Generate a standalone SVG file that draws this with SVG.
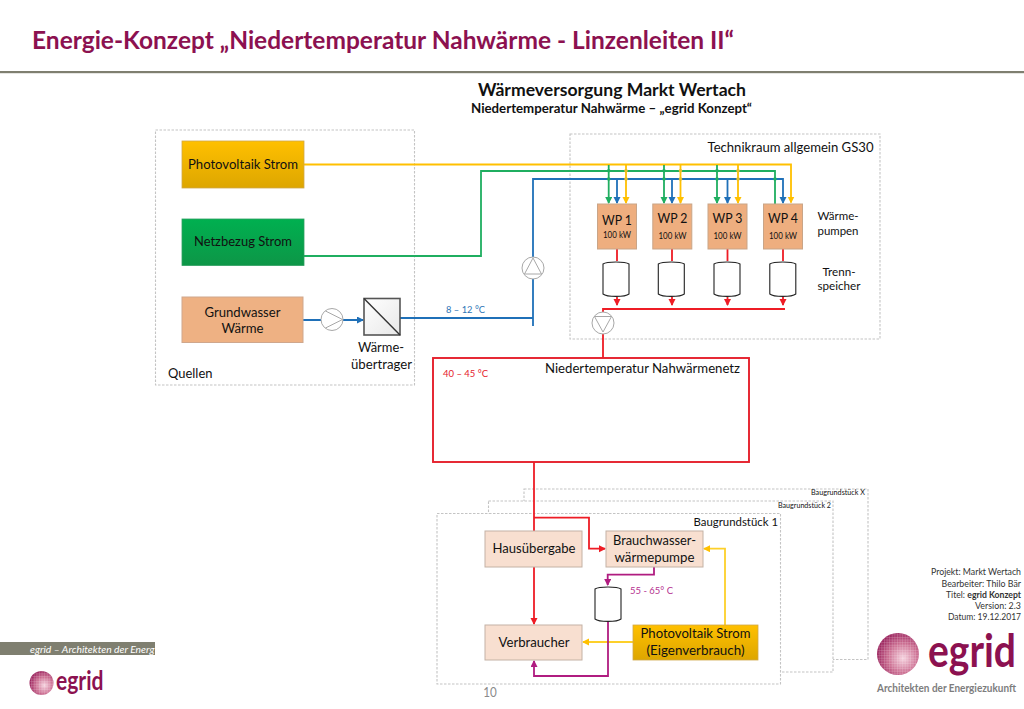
<svg xmlns="http://www.w3.org/2000/svg" width="1024" height="709" viewBox="0 0 1024 709">
<style>
text{font-family:"Lato","Carlito","Liberation Sans",sans-serif;fill:#111}
.m{text-anchor:middle}.e{text-anchor:end}
.t13{font-size:13px}.t12{font-size:12px}.t14{font-size:14px}.t9{font-size:8.6px}.t7{font-size:6.6px}
.area{fill:#fff;stroke:#c4c4c4;stroke-width:1.1;stroke-dasharray:2.5 1.5}
.peach{fill:#f8dfd0;stroke:#c4b2a5;stroke-width:1}
.wp{fill:#eeae7f;stroke:#c9a588;stroke-width:1}
.tank{fill:#fff;stroke:#222;stroke-width:1.1}
.pump{fill:#fff;stroke:#a8a8a8;stroke-width:1}
.ln{fill:none;stroke-width:1.8}
.y{stroke:#ffc000}.y2{stroke:#fdd02a}.g{stroke:#1fae60}.b{stroke:#1f70b8}.r{stroke:#ee1c25}.p{stroke:#b01c80}
</style>
<defs>
<linearGradient id="pv" x1="0" y1="0" x2="0" y2="1"><stop offset="0" stop-color="#ffc000"/><stop offset="1" stop-color="#dda600"/></linearGradient>
<linearGradient id="net" x1="0" y1="0" x2="0" y2="1"><stop offset="0" stop-color="#00b050"/><stop offset="1" stop-color="#0d9647"/></linearGradient>
<linearGradient id="hx" x1="0" y1="0" x2="1" y2="1"><stop offset="0" stop-color="#ffffff"/><stop offset="1" stop-color="#e8e8e8"/></linearGradient>
<radialGradient id="sph" cx="0.62" cy="0.6" r="0.7"><stop offset="0" stop-color="#f6d3df"/><stop offset="0.5" stop-color="#cc6f92"/><stop offset="1" stop-color="#8e1050"/></radialGradient>
<pattern id="dots" width="2.600" height="2.600" patternUnits="userSpaceOnUse"><path d="M0 0H2.600M0 0V2.600" stroke="#fff" stroke-width="0.6" opacity="0.5"/></pattern>
<marker id="ay" markerWidth="8" markerHeight="8" refX="6" refY="3.500" orient="auto" markerUnits="userSpaceOnUse"><path d="M0 0L7 3.500L0 7z" fill="#ffc000"/></marker>
<marker id="ag" markerWidth="8" markerHeight="8" refX="6" refY="3.500" orient="auto" markerUnits="userSpaceOnUse"><path d="M0 0L7 3.500L0 7z" fill="#1fae60"/></marker>
<marker id="ab" markerWidth="8" markerHeight="8" refX="6" refY="3.500" orient="auto" markerUnits="userSpaceOnUse"><path d="M0 0L7 3.500L0 7z" fill="#1f70b8"/></marker>
<marker id="ar" markerWidth="8" markerHeight="8" refX="6" refY="3.500" orient="auto" markerUnits="userSpaceOnUse"><path d="M0 0L7 3.500L0 7z" fill="#ee1c25"/></marker>
<marker id="ap" markerWidth="8" markerHeight="8" refX="6" refY="3.500" orient="auto" markerUnits="userSpaceOnUse"><path d="M0 0L7 3.500L0 7z" fill="#b01c80"/></marker>
<path id="tk" d="M0 3C4 0.300 22 0.300 26 3V33C22 36.200 4 36.200 0 33Z"/>
</defs>
<rect width="1024" height="709" fill="#fff"/>

<g id="header">
<text x="32" y="49" font-size="25" font-weight="700" style="fill:#8c1150" textLength="702" lengthAdjust="spacingAndGlyphs">Energie-Konzept „Niedertemperatur Nahwärme - Linzenleiten II“</text>
<rect x="0" y="71" width="1024" height="2.200" fill="#7f7f70"/>
<text x="612" y="96" class="m" font-size="16.500" font-weight="700" textLength="268" lengthAdjust="spacingAndGlyphs">Wärmeversorgung Markt Wertach</text>
<text x="611.500" y="113" class="m" font-size="13" font-weight="700" textLength="281" lengthAdjust="spacingAndGlyphs">Niedertemperatur Nahwärme – „egrid Konzept“</text>
</g>

<g id="quellen"><rect class="area" x="155.500" y="130" width="259" height="255"/><text x="168" y="378" class="t13" textLength="44.500" lengthAdjust="spacingAndGlyphs">Quellen</text></g>
<g id="technikraum"><rect class="area" x="570" y="134" width="310" height="205"/><text x="707.500" y="152" class="t13" textLength="166" lengthAdjust="spacingAndGlyphs">Technikraum allgemein GS30</text></g>
<g id="baugrundstueck-x"><rect class="area" x="524" y="489" width="344" height="170.500"/><text x="865" y="495" class="e t7" textLength="54" lengthAdjust="spacingAndGlyphs">Baugrundstück X</text></g>
<g id="baugrundstueck-2"><rect class="area" x="488.500" y="501" width="344.500" height="171"/><text x="831" y="508" class="e t7" textLength="53" lengthAdjust="spacingAndGlyphs">Baugrundstück 2</text></g>
<g id="baugrundstueck-1"><rect class="area" x="437" y="513.500" width="343.500" height="170.500"/><text x="778" y="526" class="e t12" textLength="84.500" lengthAdjust="spacingAndGlyphs">Baugrundstück 1</text></g>

<g id="connectors">
<path class="ln y" d="M304 164.500H791V202.500" marker-end="url(#ay)"/>
<path class="ln g" d="M304 256H481V171H775V204"/>
<path class="ln b" d="M533 326V179H783V203" marker-end="url(#ab)"/>
<path class="ln b" d="M400 318H533"/>
<path class="ln b" d="M303 320H363" marker-end="url(#ab)"/>
<path class="ln g" d="M608.700 165V203" marker-end="url(#ag)"/><path class="ln b" d="M617 179V203" marker-end="url(#ab)"/><path class="ln y" d="M626 164.500V203" marker-end="url(#ay)"/>
<path class="ln g" d="M664 165V203" marker-end="url(#ag)"/><path class="ln b" d="M672 179V203" marker-end="url(#ab)"/><path class="ln y" d="M680.500 164.500V203" marker-end="url(#ay)"/>
<path class="ln g" d="M717 165V203" marker-end="url(#ag)"/><path class="ln b" d="M727.500 179V203" marker-end="url(#ab)"/><path class="ln y" d="M738 164.500V203" marker-end="url(#ay)"/>
<g fill="#1fae60"><circle cx="608.700" cy="170.800" r="1.800"/><circle cx="608.700" cy="179" r="1.800"/><circle cx="664" cy="170.800" r="1.800"/><circle cx="664" cy="179" r="1.800"/><circle cx="717" cy="170.800" r="1.800"/><circle cx="717" cy="179" r="1.800"/><circle cx="775" cy="179" r="1.800"/></g>
<g fill="#e3bb2a"><circle cx="626" cy="170.800" r="1.800"/><circle cx="626" cy="179" r="1.800"/><circle cx="680.500" cy="170.800" r="1.800"/><circle cx="680.500" cy="179" r="1.800"/><circle cx="738" cy="170.800" r="1.800"/><circle cx="738" cy="179" r="1.800"/></g>
<path class="ln r" d="M617 249V261M672 249V261M727.500 249V261M783 249V261"/>
<path class="ln r" d="M617 297V305" marker-end="url(#ar)"/><path class="ln r" d="M672 297V305" marker-end="url(#ar)"/><path class="ln r" d="M727.500 297V305" marker-end="url(#ar)"/><path class="ln r" d="M783 297V305" marker-end="url(#ar)"/>
<path class="ln r" d="M785 309H603V358"/>
<path class="ln r" d="M534 462V624" marker-end="url(#ar)"/>
<path class="ln r" d="M534 517.700H589V548.700H605" marker-end="url(#ar)"/>
<path class="ln y2" d="M725 625V548.700H704" marker-end="url(#ay)"/>
<path class="ln y2" d="M633 642H583" marker-end="url(#ay)"/>
<path class="ln p" d="M654 567V574.700H607.700V585" marker-end="url(#ap)"/>
<path class="ln p" d="M608 622V676H534V661" marker-end="url(#ap)"/>
</g>

<g id="pv-strom"><rect x="182" y="141" width="122" height="47" fill="url(#pv)" stroke="#d0a84a" stroke-width="0.8"/><text x="243" y="168.500" class="m t13" textLength="110" lengthAdjust="spacingAndGlyphs">Photovoltaik Strom</text></g>
<g id="netzbezug"><rect x="182" y="219" width="122" height="46.500" fill="url(#net)" stroke="#2e9e60" stroke-width="0.8"/><text x="243" y="246" class="m t13" textLength="98" lengthAdjust="spacingAndGlyphs">Netzbezug Strom</text></g>
<g id="grundwasser"><rect x="182" y="297" width="121" height="45.500" fill="#eeb183" stroke="#cfa78d" stroke-width="1"/><text x="242.500" y="316.500" class="m t13" textLength="76" lengthAdjust="spacingAndGlyphs">Grundwasser</text><text x="242.500" y="333" class="m t13" textLength="42" lengthAdjust="spacingAndGlyphs">Wärme</text></g>
<g id="pumpe-grundwasser"><circle class="pump" cx="332" cy="319.500" r="11"/><path d="M325.500 311L342.500 319.500L325.500 328" fill="none" stroke="#a8a8a8"/></g>
<g id="waermeuebertrager"><rect x="364" y="298.500" width="36" height="36.500" fill="url(#hx)" stroke="#555" stroke-width="1.600"/><path d="M364 298.500L400 335" stroke="#333" stroke-width="1.400"/><text x="381" y="352" class="m t13" textLength="46" lengthAdjust="spacingAndGlyphs">Wärme-</text><text x="381.500" y="368.500" class="m t13" textLength="61" lengthAdjust="spacingAndGlyphs">übertrager</text></g>
<g id="pumpe-blau"><circle class="pump" cx="533" cy="268" r="11"/><path d="M524.500 274L533 258L541.500 274Z" fill="none" stroke="#a8a8a8"/></g>
<text x="465.500" y="313" class="m" font-size="9.800" style="fill:#2e75b6" textLength="39" lengthAdjust="spacingAndGlyphs">8 – 12 °C</text>

<g id="wp1"><rect class="wp" x="597.500" y="204" width="39" height="45"/><text x="617" y="224.500" class="m t14" textLength="30" lengthAdjust="spacingAndGlyphs">WP 1</text><text x="617" y="238" class="m t9" textLength="28" lengthAdjust="spacingAndGlyphs">100 kW</text></g>
<g id="wp2"><rect class="wp" x="652.800" y="204" width="39" height="45"/><text x="672.500" y="222.500" class="m t14" textLength="30" lengthAdjust="spacingAndGlyphs">WP 2</text><text x="672.500" y="239" class="m t9" textLength="28" lengthAdjust="spacingAndGlyphs">100 kW</text></g>
<g id="wp3"><rect class="wp" x="708" y="204" width="39" height="45"/><text x="727.500" y="222.500" class="m t14" textLength="30" lengthAdjust="spacingAndGlyphs">WP 3</text><text x="727.500" y="239" class="m t9" textLength="28" lengthAdjust="spacingAndGlyphs">100 kW</text></g>
<g id="wp4"><rect class="wp" x="763.500" y="204" width="39" height="45"/><text x="783" y="222.500" class="m t14" textLength="30" lengthAdjust="spacingAndGlyphs">WP 4</text><text x="783" y="239" class="m t9" textLength="28" lengthAdjust="spacingAndGlyphs">100 kW</text></g>
<g id="speicher1"><use href="#tk" class="tank" x="603" y="261"/></g>
<g id="speicher2"><use href="#tk" class="tank" x="658.300" y="261"/></g>
<g id="speicher3"><use href="#tk" class="tank" x="714" y="261"/></g>
<g id="speicher4"><use href="#tk" class="tank" x="769.800" y="261"/></g>
<text x="838" y="220" class="m" font-size="11" textLength="41" lengthAdjust="spacingAndGlyphs">Wärme-</text>
<text x="838" y="235" class="m" font-size="11" textLength="41" lengthAdjust="spacingAndGlyphs">pumpen</text>
<text x="839" y="275.500" class="m" font-size="11" textLength="33" lengthAdjust="spacingAndGlyphs">Trenn-</text>
<text x="839" y="290" class="m" font-size="11" textLength="43" lengthAdjust="spacingAndGlyphs">speicher</text>
<g id="pumpe-rot"><circle class="pump" cx="603" cy="323" r="11"/><path d="M594.500 316.500L611.500 316.500L603 332Z" fill="none" stroke="#a8a8a8"/></g>

<g id="nahwaermenetz"><rect x="433" y="358" width="316" height="104" fill="#fff" stroke="#e5202c" stroke-width="1.900"/><text x="642.500" y="373" class="m t13" textLength="195" lengthAdjust="spacingAndGlyphs">Niedertemperatur Nahwärmenetz</text><text x="465.500" y="377" class="m" font-size="9.800" style="fill:#e5202c" textLength="45" lengthAdjust="spacingAndGlyphs">40 – 45 °C</text></g>

<g id="hausuebergabe"><rect class="peach" x="485" y="531" width="97" height="36"/><text x="534" y="553" class="m t13" textLength="83" lengthAdjust="spacingAndGlyphs">Hausübergabe</text></g>
<g id="brauchwasser"><rect class="peach" x="606" y="531" width="97" height="36"/><text x="654.500" y="544.500" class="m t13" textLength="83" lengthAdjust="spacingAndGlyphs">Brauchwasser-</text><text x="654.500" y="561.500" class="m t13" textLength="80" lengthAdjust="spacingAndGlyphs">wärmepumpe</text></g>
<g id="speicher5"><use href="#tk" class="tank" x="595" y="586"/></g>
<text x="630" y="593.500" font-size="9.800" style="fill:#b5308f" textLength="43" lengthAdjust="spacingAndGlyphs">55 - 65° C</text>
<g id="verbraucher"><rect class="peach" x="485" y="625" width="97" height="35"/><text x="534" y="647" class="m t13" textLength="71" lengthAdjust="spacingAndGlyphs">Verbraucher</text></g>
<g id="pv-eigen"><rect x="633" y="625" width="125" height="35" fill="url(#pv)" stroke="#d0a84a" stroke-width="0.8"/><text x="695.500" y="638" class="m t13" textLength="110" lengthAdjust="spacingAndGlyphs">Photovoltaik Strom</text><text x="695.500" y="655" class="m t13" textLength="98" lengthAdjust="spacingAndGlyphs">(Eigenverbrauch)</text></g>

<text x="490" y="697" class="m" font-size="13" style="fill:#8a8a8a" textLength="13.500" lengthAdjust="spacingAndGlyphs">10</text>

<g id="projektinfo" font-size="8.800">
<text x="1021" y="575" class="e" style="fill:#333" textLength="90" lengthAdjust="spacingAndGlyphs">Projekt: Markt Wertach</text>
<text x="1021" y="586.500" class="e" style="fill:#333" textLength="79.500" lengthAdjust="spacingAndGlyphs">Bearbeiter: Thilo Bär</text>
<text x="1021" y="597.500" class="e" style="fill:#333" textLength="75" lengthAdjust="spacingAndGlyphs">Titel: <tspan font-weight="700">egrid Konzept</tspan></text>
<text x="1021" y="608.500" class="e" style="fill:#333" textLength="46" lengthAdjust="spacingAndGlyphs">Version: 2.3</text>
<text x="1021" y="620" class="e" style="fill:#333" textLength="73" lengthAdjust="spacingAndGlyphs">Datum: 19.12.2017</text>
</g>

<g id="logo-gross">
<circle cx="898" cy="654" r="21" fill="url(#sph)"/><circle cx="898" cy="654" r="21" fill="url(#dots)"/>
<text transform="translate(928 667) scale(1 1.180)" font-size="39" font-weight="700" style="fill:#8c1150" textLength="88" lengthAdjust="spacingAndGlyphs">egrid</text>
<text x="877" y="692" font-size="10.500" font-weight="700" style="fill:#7d7d7d" textLength="139" lengthAdjust="spacingAndGlyphs">Architekten der Energiezukunft</text>
</g>

<g id="fussleiste">
<rect x="0" y="642" width="155" height="13" fill="#7f7f70"/>
<text x="30" y="652.500" font-size="10" font-style="italic" style="fill:#fff" textLength="124.500" lengthAdjust="spacingAndGlyphs">egrid – Architekten der Energ</text>
<circle cx="41.500" cy="683" r="12" fill="url(#sph)"/><circle cx="41.500" cy="683" r="12" fill="url(#dots)"/>
<text x="56" y="690" font-size="27" font-weight="700" style="fill:#8c1150" textLength="47.500" lengthAdjust="spacingAndGlyphs">egrid</text>
</g>
</svg>
